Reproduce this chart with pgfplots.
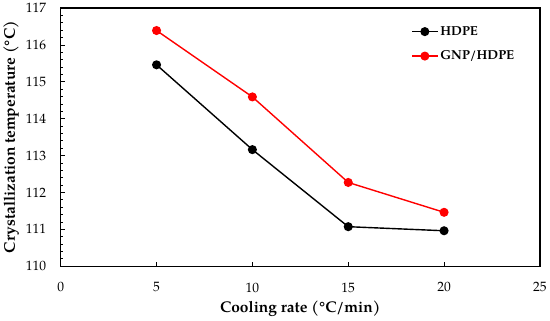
\documentclass[border=0pt]{standalone}
\usepackage{fontspec}
\setmainfont{TeX Gyre Pagella}
\usepackage{pgfplots}
\pgfplotsset{compat=1.18}
\begin{document}
\begin{tikzpicture}
\begin{axis}[
  scale only axis,
  width=479pt, height=258pt,
  xmin=0, xmax=25, ymin=110, ymax=117,
  xtick={0,5,10,15,20,25},
  ytick={110,111,...,117},
  minor y tick num=4,
  tick align=inside,
  xtick pos=bottom, ytick pos=left,
  major tick length=4pt, minor tick length=2.5pt,
  axis line style={line width=1.2pt},
  tick style={black, line width=0.8pt},
  /pgf/number format/assume math mode=true,
  /pgf/number format/1000 sep={},
  ticklabel style={font=\fontsize{13.5}{15}\selectfont},
  xticklabel style={yshift=-13pt},
  yticklabel style={xshift=-11pt},
  xlabel={\textbf{Cooling rate (°C/min)}},
  ylabel={\textbf{Crystallization temperature (°C)}},
  label style={font=\fontsize{15.5}{17}\selectfont},
  xlabel style={yshift=-2pt},
  ylabel style={yshift=0pt},
  legend style={draw=none, fill=none, at={(0.725,0.945)}, anchor=north west,
    font=\fontsize{13}{15}\selectfont\bfseries, row sep=10pt,
    legend cell align=left},
  legend image code/.code={
    \draw[mark repeat=2,mark phase=2,#1] plot coordinates {(0cm,0cm) (0.45cm,0cm) (0.9cm,0cm)};},
]
\addplot[black, line width=1.4pt, mark=*, mark size=3.8pt] coordinates {
  (5,115.46) (10,113.16) (15,111.07) (20,110.96)};
\addlegendentry{HDPE}
\addplot[red, line width=1.4pt, mark=*, mark size=3.8pt] coordinates {
  (5,116.39) (10,114.59) (15,112.27) (20,111.46)};
\addlegendentry{GNP/HDPE}
\end{axis}
\end{tikzpicture}
\end{document}
